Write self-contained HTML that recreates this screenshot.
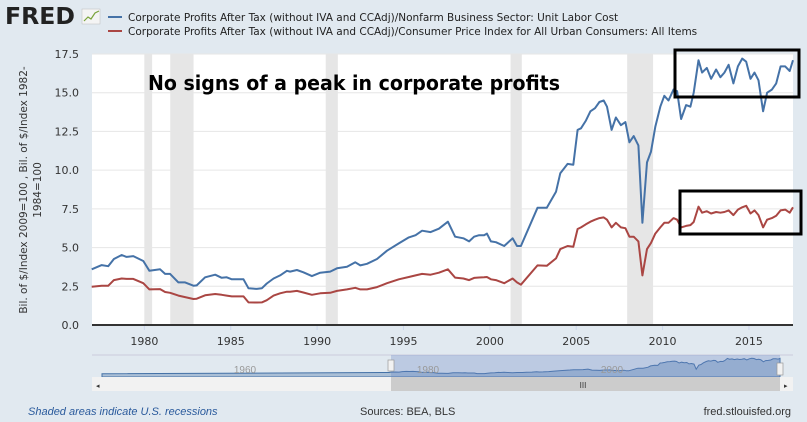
<!DOCTYPE html>
<html><head><meta charset="utf-8"><style>
html,body{margin:0;padding:0;background:#e1e9f0;}
body{width:807px;height:422px;overflow:hidden;font-family:"Liberation Sans",sans-serif;}
</style></head><body>
<svg id="chart" width="807" height="422" xmlns="http://www.w3.org/2000/svg" style="display:block">
<rect width="807" height="422" fill="#e1e9f0"/>
<g>
<text x="5" y="24" font-family="DejaVu Sans, sans-serif" font-weight="bold" font-size="23" fill="#222" textLength="70" lengthAdjust="spacingAndGlyphs">FRED</text>
<rect x="82" y="9" width="18" height="15" fill="#f4f4f4" stroke="#bbb" stroke-width="0.5"/>
<polyline points="84,21 88,17 91,19 95,13 99,11" fill="none" stroke="#7aa33b" stroke-width="1.2"/>
</g>
<g font-family="DejaVu Sans, sans-serif" font-size="10.5" fill="#222">
<line x1="108" y1="17" x2="122" y2="17" stroke="#4572a7" stroke-width="2"/>
<text x="128" y="21">Corporate Profits After Tax (without IVA and CCAdj)/Nonfarm Business Sector: Unit Labor Cost</text>
<line x1="108" y1="31" x2="122" y2="31" stroke="#aa4643" stroke-width="2"/>
<text x="128" y="35">Corporate Profits After Tax (without IVA and CCAdj)/Consumer Price Index for All Urban Consumers: All Items</text>
</g>
<rect x="92" y="54" width="701" height="271" fill="#fff"/>
<g id="rec"></g><g id="grid"></g><g id="yticks"></g><g id="xticks"></g><g id="series"></g>
<text transform="translate(27,190) rotate(-90)" text-anchor="middle" font-family="DejaVu Sans, sans-serif" font-size="10.5" fill="#333"><tspan x="0" y="0">Bil. of $/Index 2009=100 , Bil. of $/Index 1982-</tspan><tspan x="0" y="14">1984=100</tspan></text>
<text x="148" y="90" font-family="DejaVu Sans, sans-serif" font-weight="bold" font-size="20" fill="#000" textLength="412" lengthAdjust="spacingAndGlyphs">No signs of a peak in corporate profits</text>
<rect x="675" y="50" width="124" height="47" fill="none" stroke="#000" stroke-width="3"/>
<rect x="680" y="191" width="121" height="43" fill="none" stroke="#000" stroke-width="3"/>
<g>
<line x1="92" y1="355" x2="793" y2="355" stroke="#ccd" stroke-width="1"/>
<g id="nav"></g>
<rect x="391" y="355" width="389" height="22" fill="rgba(102,133,194,0.3)"/>
<rect x="92" y="377" width="701" height="14" fill="#f2f2f2"/>
<rect x="391" y="377" width="389" height="14" fill="#ccc"/>
<text x="583" y="388" font-size="8" fill="#333" text-anchor="middle">III</text>
<text x="96" y="388" font-size="7" fill="#333">◂</text>
<text x="784" y="388" font-size="7" fill="#333">▸</text>
<rect x="388" y="360" width="6" height="11" fill="#f2f2f2" stroke="#999" stroke-width="0.7"/>
<rect x="777" y="363" width="6" height="12" fill="#f2f2f2" stroke="#999" stroke-width="0.7"/>
<text x="245" y="373" font-size="10" fill="#999" text-anchor="middle">1960</text>
<text x="428" y="373" font-size="10" fill="#999" text-anchor="middle">1980</text>
<text x="612" y="373" font-size="10" fill="#999" text-anchor="middle">2000</text>
</g>
<text x="28" y="415" font-size="11" font-style="italic" fill="#2a5a9c">Shaded areas indicate U.S. recessions</text>
<text x="360" y="415" font-size="11" fill="#333">Sources: BEA, BLS</text>
<text x="791" y="415" font-size="11" fill="#333" text-anchor="end">fred.stlouisfed.org</text>
</svg>
<script>
const blueYears=[1976.95,1977.53,1977.91,1978.24,1978.69,1978.97,1979.36,1979.94,1980.29,1980.91,1981.2,1981.49,1981.97,1982.36,1982.84,1983.03,1983.52,1984.1,1984.48,1984.77,1985.06,1985.45,1985.74,1986.03,1986.51,1986.8,1987.09,1987.48,1987.86,1988.25,1988.44,1988.83,1989.21,1989.7,1990.18,1990.76,1991.15,1991.73,1992.21,1992.5,1992.89,1993.47,1994.05,1994.73,1995.31,1995.7,1996.08,1996.57,1997.05,1997.57,1997.99,1998.47,1998.8,1999.09,1999.38,1999.67,1999.83,2000.06,2000.35,2000.83,2001.32,2001.57,2001.8,2002.76,2003.3,2003.83,2004.08,2004.5,2004.83,2005.08,2005.28,2005.56,2005.82,2006.09,2006.34,2006.59,2006.78,2007.05,2007.3,2007.59,2007.85,2008.08,2008.33,2008.6,2008.83,2009.1,2009.33,2009.58,2009.87,2010.1,2010.34,2010.63,2010.84,2011.07,2011.36,2011.61,2011.8,2012.08,2012.29,2012.56,2012.81,2013.1,2013.35,2013.58,2013.82,2014.1,2014.36,2014.61,2014.84,2015.09,2015.32,2015.55,2015.82,2016.05,2016.33,2016.58,2016.83,2017.1,2017.36,2017.55];
const blueValues=[3.6,3.87,3.8,4.26,4.52,4.4,4.45,4.13,3.5,3.6,3.3,3.3,2.75,2.75,2.54,2.56,3.08,3.25,3.05,3.08,2.95,2.95,2.95,2.37,2.33,2.37,2.68,3.0,3.2,3.5,3.45,3.55,3.4,3.16,3.38,3.45,3.66,3.76,4.05,3.85,3.95,4.26,4.8,5.27,5.66,5.8,6.09,6.0,6.22,6.67,5.7,5.6,5.4,5.7,5.8,5.8,5.9,5.4,5.35,5.1,5.6,5.1,5.1,7.57,7.57,8.6,9.8,10.4,10.35,12.6,12.7,13.2,13.8,14.0,14.4,14.5,14.1,12.6,13.4,12.9,13.1,11.8,12.2,11.6,6.6,10.5,11.2,12.8,14.1,14.8,14.5,15.2,15.1,13.3,14.2,14.1,15.0,17.1,16.3,16.6,15.9,16.5,16.0,16.3,16.8,15.6,16.7,17.2,17.0,15.9,16.3,15.8,13.8,15.0,15.2,15.6,16.7,16.7,16.4,17.1];
const redValues=[2.47,2.53,2.53,2.9,3.0,2.98,2.98,2.7,2.3,2.32,2.13,2.08,1.9,1.8,1.68,1.7,1.92,2.0,1.95,1.9,1.85,1.85,1.85,1.46,1.45,1.46,1.6,1.9,2.05,2.15,2.15,2.2,2.1,1.95,2.05,2.08,2.2,2.3,2.4,2.3,2.3,2.45,2.7,2.95,3.1,3.2,3.3,3.25,3.38,3.6,3.06,3.0,2.9,3.04,3.07,3.08,3.1,2.95,2.9,2.7,3.0,2.75,2.6,3.85,3.82,4.3,4.9,5.1,5.05,6.2,6.3,6.5,6.67,6.8,6.9,6.95,6.8,6.3,6.6,6.3,6.25,5.7,5.7,5.4,3.2,4.9,5.3,5.9,6.3,6.6,6.6,6.9,6.8,6.3,6.4,6.45,6.65,7.64,7.25,7.35,7.2,7.3,7.25,7.3,7.4,7.1,7.45,7.6,7.7,7.2,7.4,7.1,6.3,6.8,6.9,7.05,7.4,7.45,7.25,7.6];
const recStart=[1980.0,1981.5,1990.5,2001.2,2007.95];
const recEnd=[1980.45,1982.85,1991.2,2001.85,2009.45];
const yTicks=[0,2.5,5,7.5,10,12.5,15,17.5];
const yTickLabels=["0.0","2.5","5.0","7.5","10.0","12.5","15.0","17.5"];
const xTicks=[1980,1985,1990,1995,2000,2005,2010,2015];
const NS="http://www.w3.org/2000/svg";
const X0=92,X1=793,Y0=325,Y1=54,D0=1976.97,D1=2017.55,V1=17.5;
const sx=y=>X0+(y-D0)/(D1-D0)*(X1-X0);
const sy=v=>Y0-v/V1*(Y0-Y1);
function mk(tag,attrs,parent){const e=document.createElementNS(NS,tag);for(const k in attrs)e.setAttribute(k,attrs[k]);parent.appendChild(e);return e;}
const rec=document.getElementById('rec');
recStart.forEach((s,i)=>{const r=mk('rect',{x:sx(s),y:Y1,width:sx(recEnd[i])-sx(s),height:Y0-Y1,fill:'#e6e6e6'},rec);

});
const grid=document.getElementById('grid'),yt=document.getElementById('yticks');
yTicks.forEach((v,i)=>{if(v>0){const l=mk('line',{x1:X0,x2:X1,y1:sy(v),y2:sy(v),stroke:'#e6e6e6','stroke-width':1},grid);

}
const t=mk('text',{x:79,y:sy(v)+4,'text-anchor':'end','font-size':11,'font-family':'DejaVu Sans, sans-serif',fill:'#333'},yt);t.textContent=yTickLabels[i];

});
const xt=document.getElementById('xticks');
xTicks.forEach(y=>{mk('line',{x1:sx(y),x2:sx(y),y1:Y0,y2:Y0+5,stroke:'#ccd6eb'},xt);
const t=mk('text',{x:sx(y),y:Y0+20,'text-anchor':'middle','font-size':11,'font-family':'DejaVu Sans, sans-serif',fill:'#333'},xt);t.textContent=y;

});
const ser=document.getElementById('series');
function path(vals,col,name){const d=vals.map((v,i)=>(i?'L':'M')+sx(blueYears[i]).toFixed(1)+','+sy(v).toFixed(1)).join('');
const p=mk('path',{d:d,fill:'none',stroke:col,'stroke-width':2,'stroke-linejoin':'round'},ser);

}
path(blueValues,'#4572a7','series-unit-labor-cost');
path(redValues,'#aa4643','series-cpi');
mk('line',{x1:X0,x2:X1,y1:Y0,y2:Y0,stroke:'#333','stroke-width':2},ser);
const nav=document.getElementById('nav');
const N0=1947,NX0=102,NX1=780;
const nx=y=>NX0+(y-N0)/(D1-N0)*(NX1-NX0);
const ny=v=>376-v/17.5*18;
let nd='M'+NX0+','+ny(2.2)+'L'+nx(1976.9)+','+ny(3.4);
blueYears.forEach((y,i)=>{nd+='L'+nx(y).toFixed(1)+','+ny(blueValues[i]).toFixed(1);});
const na=mk('path',{d:nd+'L'+NX1+',377L'+NX0+',377Z',fill:'rgba(69,114,167,0.35)',stroke:'#4572a7','stroke-width':1},nav);


</script>
</body></html>
